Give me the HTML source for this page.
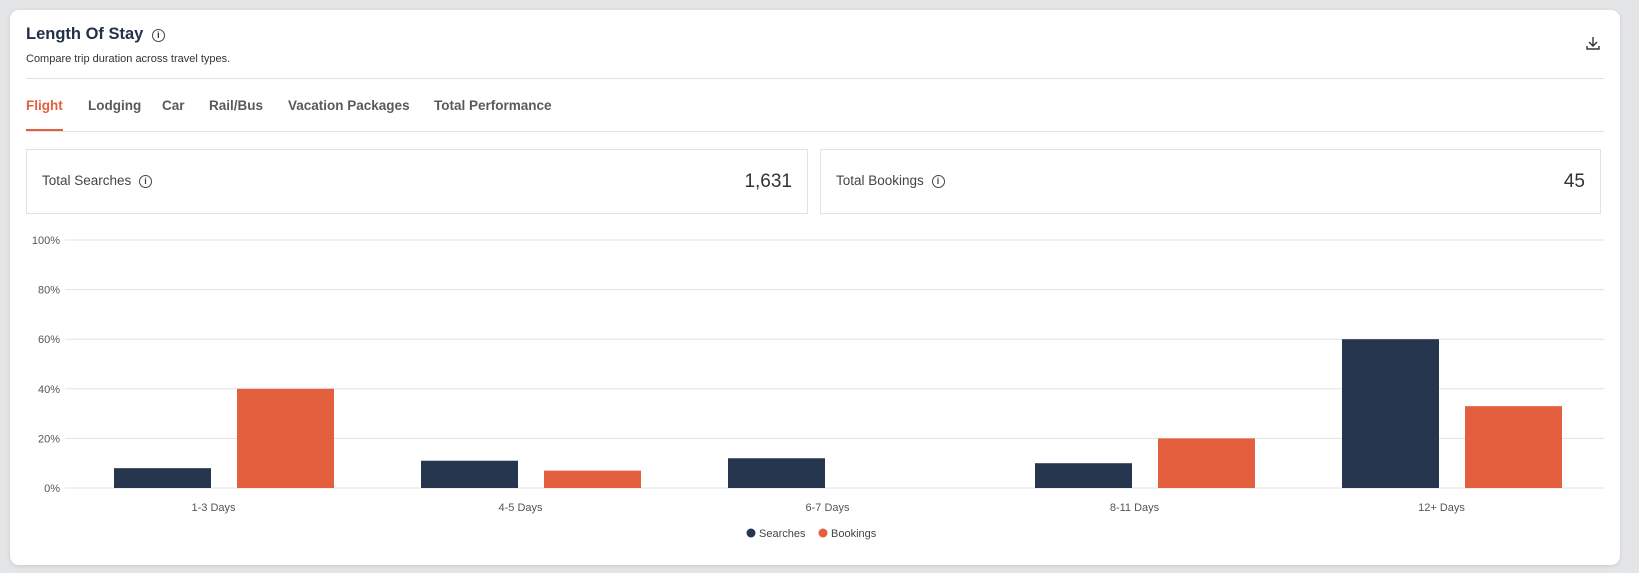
<!DOCTYPE html>
<html><head><meta charset="utf-8"><style>
body{margin:0;width:1639px;height:573px;background:#e4e5e7;font-family:"Liberation Sans",sans-serif;position:relative;overflow:hidden}
.card{position:absolute;left:10px;top:10px;width:1610px;height:555px;background:#fff;border-radius:9px;box-shadow:0 1px 4px rgba(0,0,0,.12)}
.abs{position:absolute}
.title{left:16px;top:15px;font-size:16.5px;color:#243147;font-weight:600}
.sub{left:16px;top:43px;font-size:11px;color:#333}
.hr{height:1px;background:#e2e2e2}
.tab{top:88px;font-size:13.5px;font-weight:bold;color:#5a5a5a}
.kpi{border:1px solid #e2e2e2;top:139px;height:63px}
.kl{left:15px;top:23px;font-size:13.5px;color:#444}
.kv{right:15px;top:21px;font-size:19px;color:#333}
.info{display:inline-block;width:11px;height:11px;border:1.2px solid #444;border-radius:50%;font-size:9px;line-height:11px;text-align:center;vertical-align:1px;margin-left:4px;font-weight:bold}
</style></head><body>
<div class="card">
<div class="abs title">Length Of Stay <span class="info">i</span></div>
<div class="abs sub">Compare trip duration across travel types.</div>
<svg class="abs" style="left:1575px;top:25px" width="16" height="16"><path d="M8 2v9M4 7l4 4 4-4M2 11v3h12v-3" fill="none" stroke="#333" stroke-width="1.4"/></svg>
<div class="abs hr" style="left:16px;top:68px;width:1578px"></div>
<div class="abs tab" style="left:16px;color:#e35f3d">Flight</div>
<div class="abs" style="left:16px;top:119px;width:37px;height:2px;background:#e35f3d"></div>
<div class="abs tab" style="left:78px">Lodging</div>
<div class="abs tab" style="left:152px">Car</div>
<div class="abs tab" style="left:199px">Rail/Bus</div>
<div class="abs tab" style="left:278px">Vacation Packages</div>
<div class="abs tab" style="left:424px">Total Performance</div>
<div class="abs hr" style="left:16px;top:121px;width:1578px"></div>
<div class="abs kpi" style="left:16px;width:780px">
<div class="abs kl">Total Searches <span class="info">i</span></div><div class="abs kv">1,631</div></div>
<div class="abs kpi" style="left:810px;width:779px">
<div class="abs kl">Total Bookings <span class="info">i</span></div><div class="abs kv">45</div></div>
</div>
<svg id="chart" class="abs" style="left:0;top:0" width="1639" height="573"></svg>
<script>
const categories=["1-3 Days","4-5 Days","6-7 Days","8-11 Days","12+ Days"];
const searches=[8,11,12,10,60];
const bookings=[40,7,0,20,33];
const ticks=[0,20,40,60,80,100];
const svg=document.getElementById('chart');const NS='http://www.w3.org/2000/svg';
const x0=65,x1=1600,y0=488,y1=240;
const y=v=>y0-(v/100)*(y0-y1);const bw=(x1-x0)/categories.length;
function mk(t,a,txt){const e=document.createElementNS(NS,t);for(const k in a)e.setAttribute(k,a[k]);if(txt!==undefined)e.textContent=txt;svg.appendChild(e);return e;}
ticks.forEach(t=>{const g=mk('line',{x1:x0,x2:1604,y1:y(t),y2:y(t),stroke:'#e3e3e3'});


const l=mk('text',{x:60,y:y(t)+4,'text-anchor':'end','font-size':11,fill:'#555','font-family':'Liberation Sans'},t+'%');

});
categories.forEach((c,i)=>{const bs=x0+i*bw;
const s=mk('rect',{x:bs+49,y:y(searches[i]),width:97,height:y0-y(searches[i]),fill:'#27364f'});


const b=mk('rect',{x:bs+172,y:y(bookings[i]),width:97,height:y0-y(bookings[i]),fill:'#e35f3d'});


const l=mk('text',{x:bs+bw/2-5,y:511,'text-anchor':'middle','font-size':11,fill:'#555','font-family':'Liberation Sans'},c);

});
const lg=[['Searches','#27364f',751],['Bookings','#e35f3d',823]];
lg.forEach(([n,c,x])=>{const d=mk('circle',{cx:x,cy:533,r:4.5,fill:c});


const t=mk('text',{x:x+8,y:537,'font-size':11,fill:'#444','font-family':'Liberation Sans'},n);

});
</script>
</body></html>
